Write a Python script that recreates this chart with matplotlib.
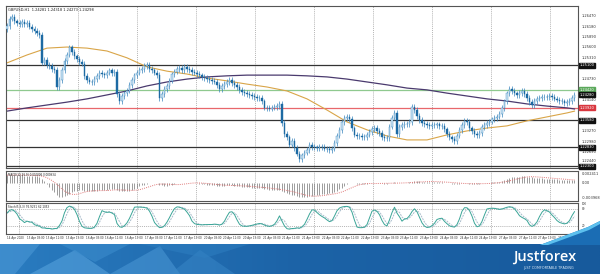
import numpy as np
import pandas as pd
import matplotlib
matplotlib.use('Agg')
import matplotlib.pyplot as plt
import matplotlib.transforms as mtransforms
from matplotlib.patches import Polygon

W, H = 600, 274

# GBPUSD H1 closes, in pips above 1.2000
close_pips = [620, 640, 645, 632, 628, 624, 630, 626, 628, 618, 612, 606, 600, 595,
              518, 525, 512, 508, 500, 497, 450, 470, 497, 522, 540, 560, 548, 535, 528, 520, 515,
              480, 470, 465, 463, 472, 480, 490, 485, 482, 490, 496, 488, 492,
              430, 410, 425, 432, 440, 455, 470, 482, 490, 497, 500, 508, 512, 500, 496, 490, 484,
              420, 430, 445, 452, 468, 485, 493, 500, 503, 498, 506, 500, 497, 492, 490, 486, 482,
              478, 476, 472, 469, 466, 465,
              455, 445, 452, 458, 463, 469, 462, 456, 450, 442, 436, 433, 430, 428, 425, 422, 420,
              419, 410, 393, 392, 390, 393, 395, 398, 403,
              350, 320, 310, 290, 300, 280, 265, 250, 260, 268, 275, 288, 284, 282, 280, 283, 284,
              279, 277, 275, 279,
              295, 315, 331, 352, 364, 368, 362, 335, 318, 313, 315, 312, 311, 318, 325, 333, 336,
              328, 322, 312, 309, 308, 340, 365, 378, 320, 338, 344, 347, 348,
              352, 395, 386, 370, 358, 350, 347, 344, 342, 345, 344, 346, 342, 343, 332, 320, 310,
              305, 300, 315, 330, 345, 356, 352, 335, 328, 320, 316, 322, 338,
              345, 350, 354, 360, 364, 368, 374, 392, 410, 432, 445, 438, 432, 428, 433, 440, 430,
              420, 408, 400, 412, 418, 420, 422, 423, 421, 424, 422, 418, 415, 412, 410, 405, 408,
              412, 420, 428]
first_open_pips = 612

# MACD main (histogram), in pips
macd_pips = [21, 21, 21, 22, 22, 21, 21, 20, 20, 19, 19, 18, 18, 17,
             12, 5, -2, -10, -18, -25, -33, -37, -37, -35, -32, -28, -25, -22, -20, -19, -19,
             -20, -21, -22, -22, -21, -20, -19, -19, -18, -18, -17, -17, -17,
             -19, -21, -22, -22, -21, -20, -18,
             -15, -12, -9, -6, -4, -2, -1, 0, 0, -1,
             -4, -6, -7, -7, -6, -4,
             -2, -1, 0, 1, 1, 1, 1, 0, 0, -1, -2, -3, -3, -4, -5, -5, -6,
             -7, -8, -8, -7, -6, -6, -6, -7, -8, -9, -10, -10, -11, -11, -12, -12, -12, -12,
             -13, -15, -17, -18, -19, -19, -19, -18,
             -20, -23, -26, -29, -31, -33, -35, -36, -37, -37, -36, -35, -34, -33, -32, -31, -30,
             -29, -28, -27, -26,
             -24, -21, -17, -12, -7, -3, 0, 0, -1, -2,
             -2, -2, -2, -2, -1, -1, 0, 0, -1, -1, -2, -2, -1, 1, 2, 1, 1, 1, 1, 1,
             2, 4, 5, 5, 5, 4, 4, 3, 3, 3, 3, 3, 2, 2, 1,
             0, -1, -2, -3, -3, -2, -1, -1, -1, -2, -2, -3, -3, -2,
             -1, 0, 1, 1, 2, 3, 3, 4, 6, 8, 11,
             14, 16, 17, 17, 17, 18, 18, 17, 16, 15, 14, 14, 13, 13, 12,
             12, 11, 11, 10, 10, 9, 8, 8, 7, 7, 7, 8]

# moving averages read every 8 bars (pips above 1.2000)
ma_idx = [0, 8, 16, 24, 32, 40, 48, 56, 64, 72, 80, 88, 96, 104, 112, 120, 128, 136, 144,
          152, 160, 168, 176, 184, 192, 200, 208, 216, 224, 227]
ma_fast_pips = [517, 539, 558, 561, 558, 550, 531, 506, 494, 486, 475, 467, 458, 450, 439,
                417, 386, 353, 331, 314, 303, 303, 317, 328, 336, 342, 356, 367, 378, 383]
ma_slow_pips = [383, 392, 400, 408, 417, 428, 439, 453, 464, 472, 478, 481, 483, 483, 483,
                481, 478, 472, 464, 456, 447, 442, 433, 425, 417, 411, 403, 397, 392, 389]

black_levels = [1.25100, 1.23580, 1.22830, 1.22300]
green_level = 1.24420
red_level = 1.23920
last_price = 1.24280
price_ticks = [1.26470, 1.26180, 1.25890, 1.25600, 1.25310, 1.25020, 1.24730, 1.24140,
               1.23270, 1.22980, 1.22690, 1.22440]

date_labels = ['14 Apr 2020', '15 Apr 03:00', '15 Apr 11:00', '15 Apr 19:00', '16 Apr 03:00',
               '16 Apr 11:00', '16 Apr 19:00', '17 Apr 03:00', '17 Apr 11:00', '17 Apr 19:00',
               '20 Apr 03:00', '20 Apr 11:00', '20 Apr 19:00', '21 Apr 03:00', '21 Apr 11:00',
               '21 Apr 19:00', '22 Apr 03:00', '22 Apr 11:00', '22 Apr 19:00', '23 Apr 03:00',
               '23 Apr 11:00', '23 Apr 19:00', '24 Apr 03:00', '24 Apr 11:00', '24 Apr 19:00',
               '27 Apr 03:00', '27 Apr 11:00', '27 Apr 19:00', '28 Apr 03:00']

close = 1.2 + np.array(close_pips) / 10000
opens = np.r_[1.2 + first_open_pips / 10000, close[:-1]]
n = len(close)
x = np.arange(n)
wick = 0.0008
high = np.maximum(opens, close) + wick
low = np.minimum(opens, close) - wick

fig = plt.figure(figsize=(W / 100, H / 100), dpi=100)
fig.patch.set_facecolor('white')


def px_axes(l, t, r, b):
    return fig.add_axes([l / W, 1 - b / H, (r - l) / W, (b - t) / H])


XLIM = (-0.4, 228.4)
grid_x = [4.8 + 23.6 * k for k in range(10)]
label_x = [7.87 * k for k in range(len(date_labels))]
small = 2.6
tiny = 2.0
axcol = '#555555'


def frame(ax):
    ax.set_xlim(*XLIM)
    ax.set_xticks([])
    ax.set_yticks([])
    for s in ax.spines.values():
        s.set_color(axcol)
        s.set_linewidth(0.8)
    for gx in grid_x:
        ax.axvline(gx, color='#9a9a9a', lw=0.5, ls=(0, (1.5, 1.5)), zorder=0)


# main price panel
ax = px_axes(6, 6, 578, 168)
frame(ax)
ax.set_ylim(1.2225, 1.2675)
tr = mtransforms.blended_transform_factory(ax.transAxes, ax.transData)

for lv in black_levels:
    ax.axhline(lv, color='#333333', lw=0.9, zorder=1)
ax.axhline(green_level, color='#8fc98f', lw=0.9, zorder=1)
ax.axhline(red_level, color='#e8676b', lw=0.9, zorder=1)

ax.plot(ma_idx, 1.2 + np.array(ma_fast_pips) / 10000, color='#d9a548', lw=0.8, zorder=2)
ax.plot(ma_idx, 1.2 + np.array(ma_slow_pips) / 10000, color='#4a3a6e', lw=0.9, zorder=2)

up = close >= opens
ax.vlines(x, low, high, color='#3a86bd', lw=0.5, zorder=3)
body_h = np.maximum(np.abs(close - opens), 0.00008)
ax.bar(x[up], body_h[up], bottom=np.minimum(opens, close)[up], width=0.62,
       color='#cfe7f5', edgecolor='#3a86bd', linewidth=0.3, zorder=4)
ax.bar(x[~up], body_h[~up], bottom=np.minimum(opens, close)[~up], width=0.62,
       color='#1d6aa3', edgecolor='#1d6aa3', linewidth=0.3, zorder=4)

ax.text(0.004, 0.985, 'GBPUSD,H1  1.24281 1.24318 1.24273 1.24298', transform=ax.transAxes,
        fontsize=small, va='top', ha='left', color='#222222')

for p in price_ticks:
    ax.text(1.006, p, f'{p:.5f}', transform=tr, fontsize=small, va='center', ha='left',
            color='#333333', clip_on=False)


def box(y, color, text_color='white'):
    ax.text(1.003, y, f'{y:.5f}', transform=tr, fontsize=small, va='center', ha='left',
            color=text_color, clip_on=False,
            bbox=dict(boxstyle='square,pad=0.15', fc=color, ec=color))


for lv in black_levels:
    box(lv, '#111111')
box(green_level, '#5aa85a')
box(last_price, '#111111')
box(red_level, '#d9363e')

# MACD panel
axm = px_axes(6, 171, 578, 201)
frame(axm)
macd = np.array(macd_pips) / 10000
signal = pd.Series(macd).rolling(9, min_periods=1).mean().values
axm.set_ylim(-0.0048, 0.0032)
axm.vlines(x, 0, macd, color='#8c8c8c', lw=0.6)
axm.plot(x, signal, color='#e07a7a', lw=0.7, ls=(0, (1, 1.2)))
axm.text(0.004, 0.95, 'MACD(12,26,9) 0.000806 0.000934', transform=axm.transAxes,
         fontsize=tiny, va='top', ha='left', color='#222222')
trm = mtransforms.blended_transform_factory(axm.transAxes, axm.transData)
for v, s in [(0.0024, '0.002411'), (0.0, '0.00'), (-0.0040, '-0.003968')]:
    axm.text(1.006, v, s, transform=trm, fontsize=small, va='center', ha='left',
             color='#333333', clip_on=False)

# stochastic panel
axs = px_axes(6, 203, 578, 234)
frame(axs)
hh = pd.Series(high).rolling(5, min_periods=1).max()
ll = pd.Series(low).rolling(5, min_periods=1).min()
num = (pd.Series(close) - ll).rolling(3, min_periods=1).sum()
den = (hh - ll).rolling(3, min_periods=1).sum()
k_line = (100 * num / den).values
d_line = pd.Series(k_line).rolling(3, min_periods=1).mean().values
axs.set_ylim(-11, 104)
for lv in (20, 80):
    axs.axhline(lv, color='#9a9a9a', lw=0.5, ls=(0, (1.5, 1.5)))
axs.plot(x, d_line, color='#a9bccb', lw=0.7, ls=(0, (2, 1)))
axs.plot(x, k_line, color='#3aa597', lw=0.7)
axs.text(0.004, 0.95, 'Stoch(5,3,3) 76.9231 62.1053', transform=axs.transAxes,
         fontsize=tiny, va='top', ha='left', color='#222222')
trs = mtransforms.blended_transform_factory(axs.transAxes, axs.transData)
for v in (100, 80, 20, 0):
    axs.text(1.006, v, str(v), transform=trs, fontsize=tiny, va='center', ha='left',
             color='#333333', clip_on=False)
trx = mtransforms.blended_transform_factory(axs.transData, axs.transAxes)
for lx, lab in zip(label_x, date_labels):
    axs.text(lx, -0.08, lab, transform=trx, fontsize=tiny, va='top', ha='left',
             color='#333333', clip_on=False)

# banner
axb = px_axes(0, 244, 600, 274)
axb.set_xlim(0, 600)
axb.set_ylim(274, 244)
axb.axis('off')
grad = np.linspace(0, 1, 256)[None, :]
cmap = matplotlib.colors.LinearSegmentedColormap.from_list('b', ['#2a7cc0', '#1c63a7', '#175a9c'])
axb.imshow(grad, extent=(0, 600, 274, 244), aspect='auto', cmap=cmap)
for pts, c, a in [([(0, 244), (40, 244), (15, 274), (0, 274)], '#4b98d6', 0.6),
                  ([(30, 274), (75, 250), (110, 274)], '#5aa6e0', 0.55),
                  ([(60, 244), (130, 244), (95, 262)], '#3b8ccc', 0.6),
                  ([(110, 274), (160, 246), (180, 274)], '#4f9cd9', 0.5),
                  ([(170, 274), (200, 250), (235, 274)], '#3a88c8', 0.5),
                  ([(140, 244), (250, 244), (205, 258)], '#2f80c2', 0.5)]:
    axb.add_patch(Polygon(pts, closed=True, fc=c, ec='none', alpha=a))
axb.text(576, 257, 'Justforex', fontsize=10.5, color='white', ha='right', va='center',
         family='Open Sans', weight='semibold')
axb.text(574, 268.5, 'JUST COMFORTABLE TRADING', fontsize=2.4, color='#dbe9f6',
         ha='right', va='center')

# corner swoosh over the right edge
axo = fig.add_axes([0, 0, 1, 1], facecolor='none')
axo.set_xlim(0, W)
axo.set_ylim(H, 0)
axo.axis('off')
axo.add_patch(Polygon([(540, 245), (588, 227), (600, 221), (600, 245)], closed=True,
                      fc='#1b6db4', ec='none'))
axo.add_patch(Polygon([(540, 245), (588, 227), (600, 221), (600, 224), (589, 230), (548, 245)],
                      closed=True, fc='#5cc0ee', ec='none'))

fig.savefig('out.png', dpi=100)
